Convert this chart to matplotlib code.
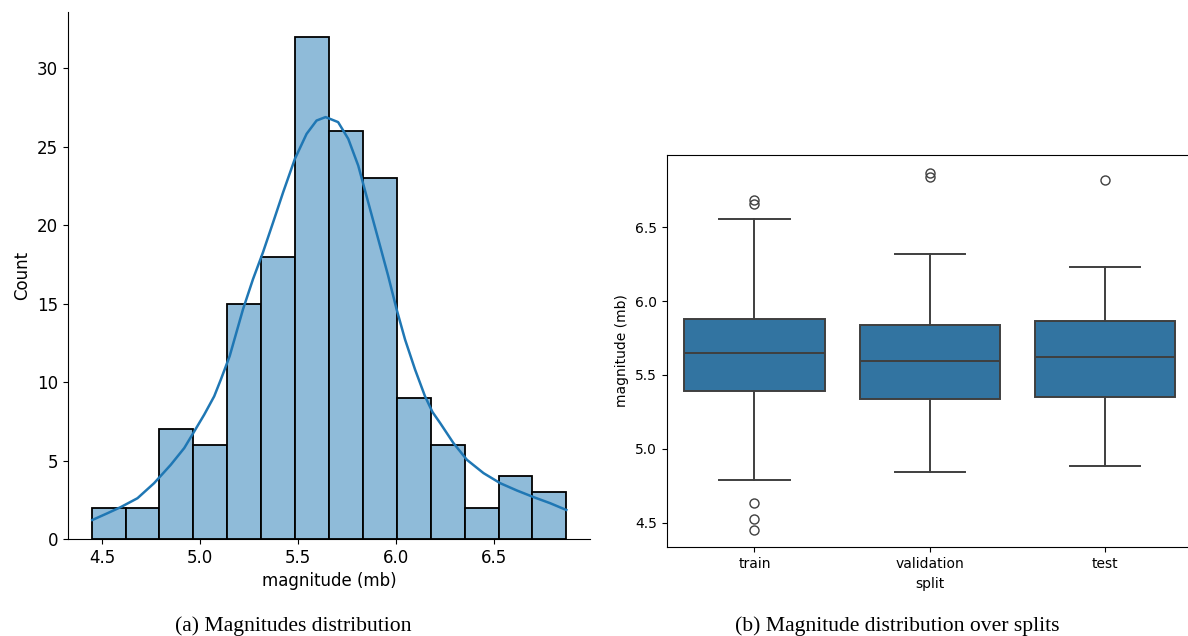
import numpy as np
import matplotlib
matplotlib.use("Agg")
import matplotlib.pyplot as plt

plt.rcParams["font.family"] = ["DejaVu Sans"]

# (a) histogram of magnitudes
HIST_RANGE = (4.447, 6.872)
HIST_COUNTS = [2, 2, 7, 6, 15, 18, 32, 26, 23, 9, 6, 2, 4, 3]

# kde curve (magnitude, count scale)
KDE_X = [4.450, 4.527, 4.595, 4.681, 4.766, 4.851, 4.920, 4.971, 5.022, 5.073,
         5.107, 5.152, 5.220, 5.271, 5.322, 5.374, 5.425, 5.485, 5.545, 5.596,
         5.642, 5.706, 5.758, 5.809, 5.860, 5.911, 5.962, 6.005, 6.048, 6.099,
         6.150, 6.188, 6.227, 6.295, 6.364, 6.449, 6.534, 6.620, 6.705, 6.790,
         6.872]
KDE_Y = [1.21, 1.64, 2.03, 2.60, 3.56, 4.73, 5.80, 6.86, 7.93, 9.10,
         10.17, 11.66, 14.64, 16.56, 18.27, 20.19, 22.10, 24.23, 25.83, 26.68,
         26.90, 26.58, 25.51, 23.80, 21.46, 19.12, 16.77, 14.64, 12.72, 10.81,
         9.10, 8.10, 7.40, 6.12, 5.05, 4.20, 3.56, 3.09, 2.67, 2.28,
         1.85]

# (b) box plot per split
SPLITS = ["train", "validation", "test"]
Q1 = [5.391, 5.339, 5.350]
MEDIAN = [5.646, 5.596, 5.619]
Q3 = [5.881, 5.838, 5.867]
WHIS_LO = [4.790, 4.842, 4.883]
WHIS_HI = [6.558, 6.319, 6.231]
FLIERS = [[4.634, 4.522, 4.449, 6.658, 6.688],
          [6.839, 6.866],
          [6.818]]

HIST_FILL = "#8fbbd9"
KDE_COLOR = "#1f77b4"
BOX_FILL = "#3274a1"
BOX_LINE = "#3f3f3f"

fig = plt.figure(figsize=(11.88, 6.36), dpi=100)

# ---- (a) ----
ax1 = fig.add_axes([68 / 1188, 1 - 539 / 636, 522 / 1188, 527 / 636])
edges = np.linspace(HIST_RANGE[0], HIST_RANGE[1], len(HIST_COUNTS) + 1)
ax1.bar(edges[:-1], HIST_COUNTS, width=np.diff(edges), align="edge",
        color=HIST_FILL, edgecolor="black", linewidth=1.3)
ax1.plot(KDE_X, KDE_Y, color=KDE_COLOR, linewidth=1.8, solid_joinstyle="round")
ax1.set_xlim(4.326, 6.993)
ax1.set_ylim(0, 33.6)
ax1.set_xticks([4.5, 5.0, 5.5, 6.0, 6.5])
ax1.set_yticks([0, 5, 10, 15, 20, 25, 30])
ax1.spines["top"].set_visible(False)
ax1.spines["right"].set_visible(False)
ax1.tick_params(labelsize=12)
ax1.set_xlabel("magnitude (mb)", fontsize=12)
ax1.set_ylabel("Count", fontsize=12)

# ---- (b) ----
ax2 = fig.add_axes([666.7 / 1188, 1 - 547.3 / 636, 526.3 / 1188, 392.6 / 636])
stats = []
for i, name in enumerate(SPLITS):
    stats.append(dict(label=name, q1=Q1[i], med=MEDIAN[i], q3=Q3[i],
                      whislo=WHIS_LO[i], whishi=WHIS_HI[i], fliers=FLIERS[i]))
ax2.bxp(stats, positions=range(len(SPLITS)), widths=0.8, patch_artist=True,
        boxprops=dict(facecolor=BOX_FILL, edgecolor=BOX_LINE, linewidth=1.4),
        medianprops=dict(color=BOX_LINE, linewidth=1.4),
        whiskerprops=dict(color=BOX_LINE, linewidth=1.4),
        capprops=dict(color=BOX_LINE, linewidth=1.4),
        flierprops=dict(marker="o", markerfacecolor="none",
                        markeredgecolor=BOX_LINE, markersize=6.5))
ax2.set_xlim(-0.5, 2.5)
ax2.set_ylim(4.332, 6.992)
ax2.set_yticks([4.5, 5.0, 5.5, 6.0, 6.5])
ax2.set_xticks(range(len(SPLITS)))
ax2.set_xticklabels(SPLITS)
ax2.tick_params(labelsize=10)
ax2.set_xlabel("split", fontsize=10)
ax2.set_ylabel("magnitude (mb)", fontsize=10)

# captions
cap = dict(family=["Liberation Serif", "DejaVu Serif"], fontsize=15.6,
           ha="center", va="baseline")
fig.text(293 / 1188, 1 - 631 / 636, "(a) Magnitudes distribution", **cap)
fig.text(897 / 1188, 1 - 631 / 636, "(b) Magnitude distribution over splits", **cap)

fig.savefig("out.png", dpi=100)
